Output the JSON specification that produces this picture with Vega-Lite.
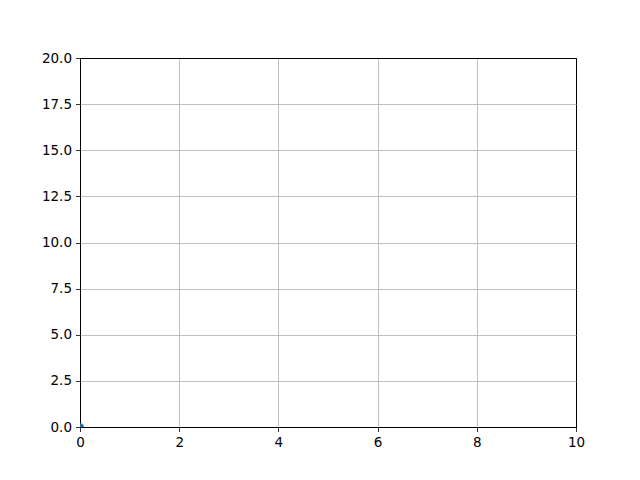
{
  "$schema": "https://vega.github.io/schema/vega-lite/v6.json",
  "width": 496,
  "height": 369,
  "autosize": "none",
  "padding": {"left": 80, "top": 58, "right": 64, "bottom": 53},
  "background": "white",
  "data": {"values": [{"x": 0, "y": 0}]},
  "mark": {"type": "circle", "clip": true, "color": "#1f77b4", "opacity": 1, "size": 60},
  "encoding": {
    "x": {
      "field": "x",
      "type": "quantitative",
      "scale": {"domain": [0, 10], "nice": false, "zero": false},
      "axis": {
        "values": [0, 2, 4, 6, 8, 10],
        "format": "d",
        "title": null,
        "gridColor": {"condition": {"test": "datum.value === 0 || datum.value === 10", "value": "black"}, "value": "#b0b0b0"}
      }
    },
    "y": {
      "field": "y",
      "type": "quantitative",
      "scale": {"domain": [0, 20], "nice": false, "zero": false},
      "axis": {
        "values": [0, 2.5, 5, 7.5, 10, 12.5, 15, 17.5, 20],
        "format": ".1f",
        "title": null,
        "gridColor": {"condition": {"test": "datum.value === 0 || datum.value === 20", "value": "black"}, "value": "#b0b0b0"}
      }
    }
  },
  "config": {
    "view": {"stroke": "black", "strokeWidth": 1},
    "axis": {
      "domain": false,
      "grid": true,
      "gridWidth": 0.8,
      "tickColor": "black",
      "tickSize": 4.5,
      "tickWidth": 0.8,
      "labelColor": "black",
      "labelFont": "DejaVu Sans",
      "labelFontSize": 13.5,
      "labelPadding": 4,
      "labelFlush": false,
      "labelOverlap": false
    }
  }
}
